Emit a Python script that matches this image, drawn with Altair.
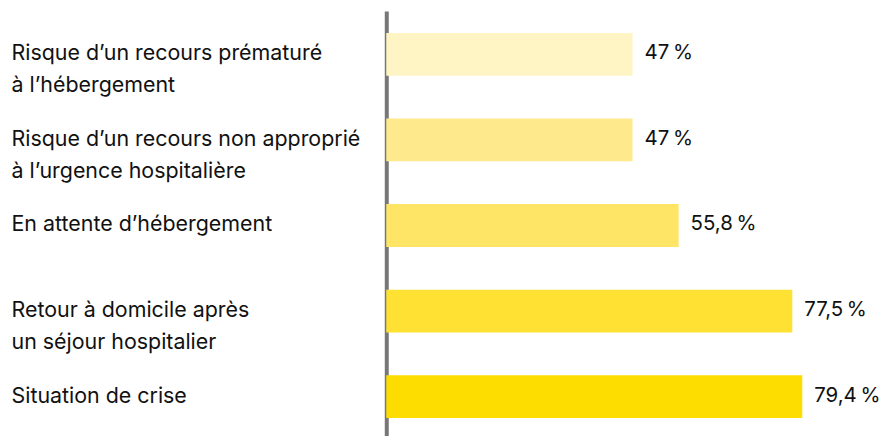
import altair as alt
import pandas as pd

categories = [
    "Risque d’un recours prématuré\nà l’hébergement",
    "Risque d’un recours non approprié\nà l’urgence hospitalière",
    "En attente d’hébergement",
    "Retour à domicile après\nun séjour hospitalier",
    "Situation de crise",
]
values = [47, 47, 55.8, 77.5, 79.4]
value_labels = ["47\u202f%", "47\u202f%", "55,8\u202f%", "77,5\u202f%", "79,4\u202f%"]
colors = ["#FEF4C4", "#FEEA8C", "#FEE566", "#FEE133", "#FDDC00"]

df = pd.DataFrame({"cat": categories, "val": values, "lab": value_labels})

FONT = "Inter"

y = alt.Y(
    "cat:N",
    sort=None,
    scale=alt.Scale(paddingInner=0.5, paddingOuter=0.256),
    axis=alt.Axis(
        title=None,
        ticks=False,
        tickSize=0,
        labelAlign="left",
        labelBaseline="middle",
        labelPadding=377,
        labelFont=FONT,
        labelFontSize=21.5,
        labelColor="#111111",
        labelLineHeight=32,
        labelLimit=400,
        labelExpr="split(datum.label, '\\n')",
        domainColor="#777777",
        domainWidth=4,
        grid=False,
    ),
)

x = alt.X("val:Q", scale=alt.Scale(domain=[0, 95]), axis=None)

bars = alt.Chart(df).mark_bar().encode(
    x=x,
    y=y,
    color=alt.Color("cat:N", sort=None, scale=alt.Scale(domain=categories, range=colors), legend=None),
)

text = alt.Chart(df).mark_text(
    align="left", baseline="middle", dx=12, dy=-1, font=FONT, fontSize=20.5, color="#111111"
).encode(x=x, y=y, text="lab:N")

chart = (
    alt.layer(bars, text)
    .properties(
        width=500,
        height=431,
        autosize=alt.AutoSizeParams(type="none"),
        padding={"left": 380, "top": 2, "right": 0, "bottom": 0},
    )
    .configure_view(stroke=None)
)

chart.save("out.html", embed_options={"renderer": "svg", "actions": False})
